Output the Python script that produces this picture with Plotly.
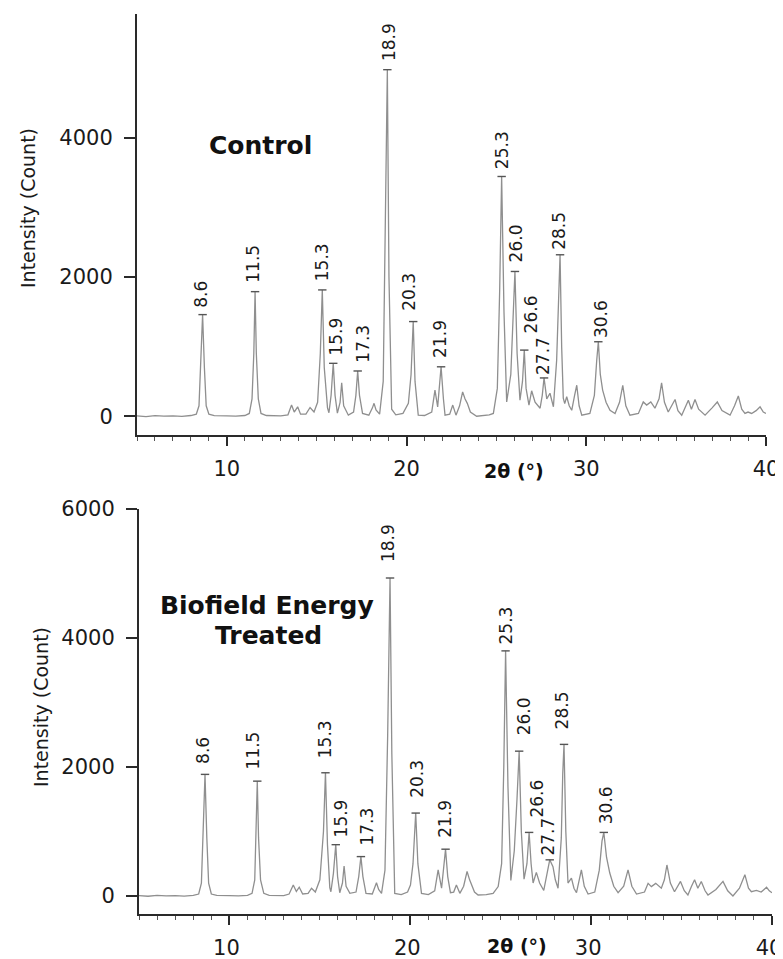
import plotly.graph_objects as go

# ---------------- data ----------------
two_theta_control = [5.0, 5.5, 6.0, 6.5, 7.0, 7.5, 8.0, 8.3, 8.45, 8.55, 8.65, 8.75, 8.85, 9.0, 9.3, 10.0, 10.5,
    11.0, 11.25, 11.4, 11.5, 11.57, 11.64, 11.75, 11.9, 12.2, 13.0, 13.4, 13.6, 13.75, 13.94, 14.1, 14.4,
    14.63, 14.85, 15.05, 15.2, 15.31, 15.42, 15.6, 15.68, 15.8, 15.92, 16.02, 16.15, 16.3, 16.39, 16.5,
    16.76, 17.05, 17.18, 17.28, 17.38, 17.55, 17.9, 18.1, 18.19, 18.3, 18.5, 18.7, 18.82, 18.93, 19.02,
    19.17, 19.4, 19.8, 20.1, 20.25, 20.37, 20.47, 20.65, 21.0, 21.4, 21.58, 21.73, 21.92, 22.05, 22.14,
    22.4, 22.57, 22.75, 22.95, 23.12, 23.25, 23.38, 23.55, 23.9, 24.3, 24.6, 24.83, 25.05, 25.18, 25.29,
    25.42, 25.57, 25.8, 25.93, 26.03, 26.15, 26.31, 26.45, 26.55, 26.65, 26.81, 26.96, 27.15, 27.43,
    27.55, 27.65, 27.8, 27.98, 28.17, 28.35, 28.45, 28.54, 28.63, 28.72, 28.8, 28.91, 29.05, 29.19,
    29.35, 29.47, 29.6, 29.75, 30.2, 30.45, 30.58, 30.67, 30.78, 30.91, 31.1, 31.32, 31.6, 31.85, 32.03,
    32.2, 32.43, 32.9, 33.17, 33.36, 33.59, 33.82, 34.05, 34.19, 34.35, 34.56, 34.94, 35.1, 35.31, 35.55,
    35.68, 35.85, 36.05, 36.25, 36.61, 37.0, 37.29, 37.55, 38.0, 38.25, 38.46, 38.65, 38.83, 39.0, 39.2,
    39.45, 39.67, 39.85, 40.0]
intensity_control = [5, -5, 8, 0, 5, -3, 10, 30, 150, 700, 1460, 700, 150, 30, 8, 5, 0,
    10, 40, 250, 900, 1790, 900, 250, 40, 10, 5, 20, 160, 60, 135, 30, 30,
    125, 60, 200, 900, 1815, 700, 120, 50, 300, 760, 300, 45, 200, 480, 150,
    15, 60, 300, 650, 300, 40, 15, 120, 185, 90, 30, 500, 2500, 4980, 2000,
    100, 20, 40, 185, 600, 1360, 500, 15, 10, 60, 375, 135, 710, 250, 15,
    30, 160, 15, 150, 350, 250, 185, 60, 0, 10, 20, 40, 400, 1800, 3445,
    1500, 206, 600, 1400, 2080, 900, 230, 500, 950, 400, 160, 365, 200, 115,
    300, 550, 250, 330, 135, 800, 1800, 2320, 1000, 260, 180, 280, 150, 85,
    300, 445, 150, 15, 40, 300, 800, 1070, 600, 375, 200, 85, 40, 200, 445,
    150, 15, 40, 205, 160, 205, 115, 250, 480, 200, 60, 240, 80, 15, 150,
    230, 100, 240, 100, 15, 120, 205, 80, 15, 150, 290, 100, 40, 60, 40,
    80, 135, 60, 40]

two_theta_treated = [5.0, 5.5, 6.0, 6.5, 7.0, 7.5, 8.0, 8.3, 8.45, 8.55, 8.65, 8.75, 8.85, 9.0, 9.3, 10.0, 10.5,
    11.0, 11.25, 11.4, 11.47, 11.54, 11.61, 11.72, 11.9, 12.2, 13.0, 13.3, 13.53, 13.7, 13.86, 14.05, 14.35,
    14.54, 14.75, 15.0, 15.2, 15.31, 15.42, 15.55, 15.61, 15.75, 15.88, 15.98, 16.1, 16.25, 16.34, 16.45,
    16.66, 17.0, 17.15, 17.27, 17.38, 17.55, 17.9, 18.05, 18.13, 18.25, 18.41, 18.6, 18.75, 18.88, 18.98,
    19.14, 19.5, 19.85, 20.01, 20.15, 20.3, 20.42, 20.62, 21.0, 21.35, 21.54, 21.73, 21.95, 22.07, 22.22,
    22.4, 22.55, 22.74, 22.95, 23.14, 23.28, 23.38, 23.55, 23.75, 24.2, 24.58, 24.86, 25.05, 25.17, 25.27,
    25.4, 25.56, 25.75, 25.9, 26.02, 26.14, 26.29, 26.45, 26.57, 26.68, 26.79, 26.97, 27.15, 27.38,
    27.55, 27.71, 27.89, 28.02, 28.17, 28.35, 28.43, 28.5, 28.6, 28.72, 28.91, 29.05, 29.19,
    29.33, 29.46, 29.62, 29.83, 30.2, 30.45, 30.6, 30.7, 30.85, 31.03, 31.25, 31.49, 31.8, 32.04,
    32.25, 32.51, 32.95, 33.15, 33.33, 33.57, 33.88, 34.05, 34.19, 34.38, 34.61, 34.94, 35.15, 35.35, 35.55,
    35.72, 35.9, 36.09, 36.3, 36.46, 36.9, 37.29, 37.55, 37.84, 38.2, 38.5, 38.7, 38.86, 39.14, 39.4,
    39.7, 39.85, 40.0]
intensity_treated = [5, -5, 8, 0, 5, -3, 10, 30, 200, 900, 1885, 900, 200, 30, 8, 5, 0,
    10, 40, 250, 900, 1780, 900, 250, 40, 10, 5, 30, 170, 70, 135, 30, 40,
    120, 60, 250, 1000, 1910, 800, 130, 65, 350, 795, 300, 50, 200, 465, 150,
    40, 60, 300, 610, 300, 40, 30, 150, 205, 100, 40, 400, 2500, 4930, 2200,
    40, 20, 60, 170, 500, 1285, 500, 40, 20, 80, 405, 120, 725, 300, 50,
    60, 170, 40, 150, 380, 250, 170, 60, 15, 20, 40, 145, 500, 2000, 3800,
    1700, 240, 700, 1500, 2245, 1000, 260, 500, 985, 500, 200, 365, 200, 85,
    350, 560, 455, 250, 120, 900, 1900, 2350, 1000, 200, 275, 120, 50,
    250, 405, 150, 30, 60, 400, 850, 985, 600, 355, 150, 50, 150, 405,
    150, 30, 60, 195, 145, 195, 120, 250, 480, 200, 65, 225, 80, 15, 150,
    250, 120, 225, 80, 15, 100, 225, 80, 0, 120, 330, 120, 65, 85, 60,
    135, 80, 50]

peak_labels = ["8.6", "11.5", "15.3", "15.9", "17.3", "18.9", "20.3", "21.9",
               "25.3", "26.0", "26.6", "27.7", "28.5", "30.6"]
peak_x_control = [8.65, 11.57, 15.31, 15.92, 17.28, 18.93, 20.37, 21.92, 25.29, 26.03, 26.55, 27.65, 28.54, 30.67]
peak_y_control = [1460, 1790, 1815, 760, 650, 4980, 1360, 710, 3445, 2080, 950, 550, 2320, 1070]
peak_x_treated = [8.65, 11.54, 15.31, 15.88, 17.27, 18.88, 20.30, 21.95, 25.27, 26.02, 26.57, 27.71, 28.50, 30.70]
peak_y_treated = [1885, 1780, 1910, 795, 610, 4930, 1285, 725, 3800, 2245, 985, 560, 2350, 985]

x_ticks = [10, 20, 30, 40]
y_ticks_control = [0, 2000, 4000]
y_ticks_treated = [0, 2000, 4000, 6000]

# ---------------- layout helpers (pixel offsets of the labels) ----------------
shift_x_control = [-1, -2, 0, 3, 5, 1, -5, -1, 1, 2, 7, -1, -1, 2]
shift_y_control = [5, 7, 7, 6, 6, 7, 9, 7, 5, 7, 15, 1, 3, 2]
shift_x_treated = [-2, -4, -1, 5, 6, -2, 1, 0, 0, 5, 8, -2, -2, 3]
shift_y_treated = [8, 10, 13, 5, 9, 14, 13, 9, 4, 14, 13, 2, 13, 6]

FONT = "DejaVu Sans"
LINE_COL = "#8f8f8f"
AX_COL = "#2a2a2a"
TXT_COL = "#1a1a1a"

# the page body adds an 8 px offset, so target page pixels are converted with it
OFF = 8
W, H = 783, 959
ML = 137 - OFF           # left edge of plot area (page x 137)
MT = 14 - OFF            # top of plot area (page y 14)
MR = W - (772 - OFF)     # right edge of plot area (page x 772)
MB = H - (914 - OFF)     # bottom of plot area (page y 914)
PW, PH = W - ML - MR, H - MT - MB


def px(xp):
    return (xp - OFF - ML) / PW


def py(yp):
    return (H - MB - (yp - OFF)) / PH


fig = go.Figure()
fig.add_trace(go.Scatter(x=two_theta_control, y=intensity_control, mode="lines",
                         line=dict(color=LINE_COL, width=1.3), xaxis="x", yaxis="y", showlegend=False))
fig.add_trace(go.Scatter(x=two_theta_treated, y=intensity_treated, mode="lines",
                         line=dict(color=LINE_COL, width=1.3), xaxis="x2", yaxis="y2", showlegend=False))
fig.add_trace(go.Scatter(x=peak_x_control, y=peak_y_control, mode="markers",
                         marker=dict(symbol="line-ew", size=6, line=dict(color="#555", width=1.4)),
                         xaxis="x", yaxis="y", showlegend=False))
fig.add_trace(go.Scatter(x=peak_x_treated, y=peak_y_treated, mode="markers",
                         marker=dict(symbol="line-ew", size=6, line=dict(color="#555", width=1.4)),
                         xaxis="x2", yaxis="y2", showlegend=False))

xaxis_common = dict(range=[5, 40], showline=True, linecolor=AX_COL, linewidth=2, automargin=False,
                    ticks="outside", tickvals=x_ticks, ticklen=9, tickwidth=1.5, tickcolor=AX_COL,
                    minor=dict(dtick=1, tick0=0, ticks="outside", ticklen=4, tickwidth=1, tickcolor="#555"),
                    showgrid=False, zeroline=False,
                    tickfont=dict(family=FONT, size=21, color=TXT_COL), ticklabelstandoff=5)
yaxis_common = dict(showline=True, linecolor=AX_COL, linewidth=2, ticks="outside", ticklen=11,
                    tickwidth=1.5, tickcolor=AX_COL, showgrid=False, zeroline=False, automargin=False,
                    tickfont=dict(family=FONT, size=21, color=TXT_COL), ticklabelstandoff=7)

fig.update_layout(
    width=W, height=H, margin=dict(l=ML, r=MR, t=MT, b=MB, autoexpand=False),
    paper_bgcolor="white", plot_bgcolor="white",
    xaxis=dict(**xaxis_common, domain=[0, px(766)], anchor="y"),
    yaxis=dict(**yaxis_common, domain=[py(435), 1], range=[-270, 5780], tickvals=y_ticks_control, anchor="x"),
    xaxis2=dict(**xaxis_common, domain=[px(139), 1], anchor="y2", ticklabelshift=-3),
    yaxis2=dict(**yaxis_common, domain=[0, py(509)], range=[-280, 6000],
                tickvals=y_ticks_treated, anchor="x2"),
)

annotations = []
for lab, xv, yv, xs, ys in zip(peak_labels, peak_x_control, peak_y_control, shift_x_control, shift_y_control):
    annotations.append(dict(x=xv, y=yv, xref="x", yref="y", text=lab, textangle=-90, showarrow=False,
                            xanchor="center", yanchor="bottom", xshift=xs, yshift=ys,
                            font=dict(family=FONT, size=17, color=TXT_COL)))
for lab, xv, yv, xs, ys in zip(peak_labels, peak_x_treated, peak_y_treated, shift_x_treated, shift_y_treated):
    annotations.append(dict(x=xv, y=yv, xref="x2", yref="y2", text=lab, textangle=-90, showarrow=False,
                            xanchor="center", yanchor="bottom", xshift=xs, yshift=ys,
                            font=dict(family=FONT, size=17, color=TXT_COL)))

bold = dict(family=FONT, size=25, color="#111", weight="bold")
annotations += [
    dict(x=px(260), y=py(145), xref="paper", yref="paper", text="Control", showarrow=False,
         xanchor="center", yanchor="middle", font=bold),
    dict(x=px(267), y=py(605), xref="paper", yref="paper", text="Biofield Energy", showarrow=False,
         xanchor="center", yanchor="middle", font=bold),
    dict(x=px(268), y=py(635), xref="paper", yref="paper", text="Treated", showarrow=False,
         xanchor="center", yanchor="middle", font=bold),
    dict(x=px(28), y=py(208), xref="paper", yref="paper", text="Intensity (Count)", textangle=-90,
         showarrow=False, xanchor="center", yanchor="middle",
         font=dict(family=FONT, size=19, color=TXT_COL)),
    dict(x=px(41), y=py(707), xref="paper", yref="paper", text="Intensity (Count)", textangle=-90,
         showarrow=False, xanchor="center", yanchor="middle",
         font=dict(family=FONT, size=19, color=TXT_COL)),
    dict(x=px(514), y=py(471), xref="paper", yref="paper", text="2θ (°)", showarrow=False,
         xanchor="center", yanchor="middle", font=dict(family=FONT, size=19, color="#111", weight="bold")),
    dict(x=px(517), y=py(946), xref="paper", yref="paper", text="2θ (°)", showarrow=False,
         xanchor="center", yanchor="middle", font=dict(family=FONT, size=19, color="#111", weight="bold")),
]
fig.update_layout(annotations=annotations)

fig.write_html("out.html")
